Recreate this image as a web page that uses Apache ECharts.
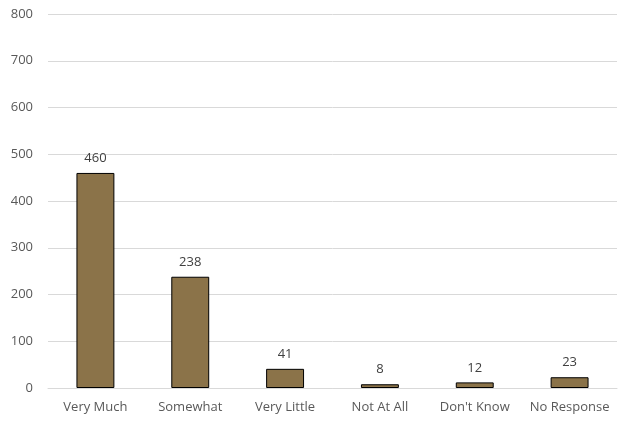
<!DOCTYPE html>
<html><head><meta charset="utf-8">
<script src="https://cdn.jsdelivr.net/npm/echarts@6/dist/echarts.min.js"></script>
<style>html,body{margin:0;padding:0;background:#fff}#c{width:619px;height:421px}</style>
</head><body><div id="c"></div>
<script>
const categories = ["Very Much", "Somewhat", "Very Little", "Not At All", "Don't Know", "No Response"];
const values = [460, 238, 41, 8, 12, 23];
const yTicks = {min: 0, max: 800, interval: 100};

const chart = echarts.init(document.getElementById('c'), null, {renderer: 'canvas'});
chart.setOption({
  animation: false,
  grid: {left: 48, right: 2, top: 14, bottom: 33, containLabel: false},
  xAxis: {
    type: 'category', data: categories,
    axisLine: {show: true, lineStyle: {color: '#d9d9d9', width: 1}},
    axisTick: {show: false},
    axisLabel: {interval: 0, color: '#595959', fontSize: 13, fontFamily: 'Open Sans', margin: 13}
  },
  yAxis: {
    type: 'value', min: yTicks.min, max: yTicks.max, interval: yTicks.interval,
    axisLine: {show: false}, axisTick: {show: false},
    splitLine: {lineStyle: {color: '#d9d9d9', width: 1}},
    axisLabel: {color: '#595959', fontSize: 13, fontFamily: 'Open Sans', margin: 15}
  },
  series: [{
    type: 'bar', data: values, barWidth: '40%',
    itemStyle: {color: '#8B7349', borderColor: '#000', borderWidth: 1},
    label: {show: true, position: 'top', distance: 8, color: '#404040', fontSize: 13, fontFamily: 'Open Sans'}
  }]
});
</script></body></html>
